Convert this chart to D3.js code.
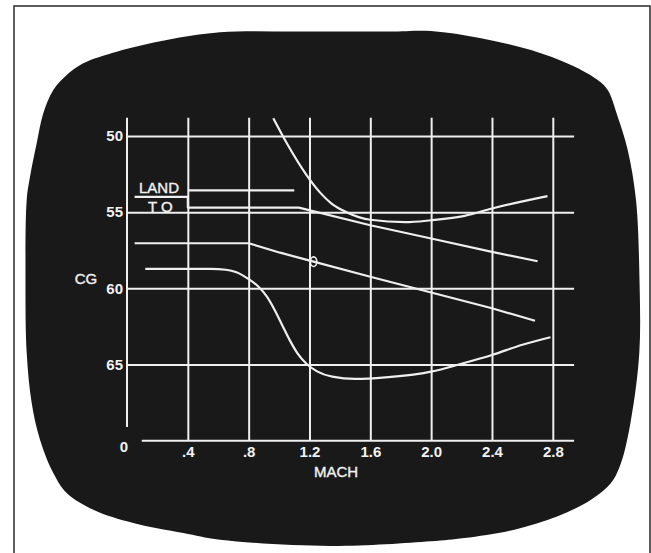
<!DOCTYPE html>
<html>
<head>
<meta charset="utf-8">
<script src="https://cdn.jsdelivr.net/npm/d3@7"></script>
<style>
  body { margin: 0; background: #fff; }
  svg { display: block; }
  text { font-family: "Liberation Sans", Arial, sans-serif; fill: #f2f2f2; }
</style>
</head>
<body>
<div id="chart"></div>
<script>
// CG vs Mach display (CRT screen)

// Axis ticks
const machTicks = [0.4, 0.8, 1.2, 1.6, 2.0, 2.4, 2.8];
const machLabels = [".4", ".8", "1.2", "1.6", "2.0", "2.4", "2.8"];
const cgTicks = [50, 55, 60, 65];

// LAND limit
const landMach = [0.4, 1.1];
const landCG = [53.57, 53.57];

// T O limit (with the step under the LAND label)
const toMach = [0.05, 0.4, 0.4, 1.13, 1.6, 2.0, 2.4, 2.70];
const toCG = [54.0, 54.0, 54.7, 54.7, 55.86, 56.73, 57.61, 58.22];

// forward curve (U shaped)
const fwdMach = [0.962, 1.051, 1.183, 1.273, 1.341, 1.454, 1.6, 1.831, 2.0, 2.221, 2.4, 2.765];
const fwdCG = [48.84, 50.48, 52.6, 53.75, 54.4, 55.05, 55.5, 55.66, 55.53, 55.24, 54.76, 53.95];

// actual CG schedule
const actMach = [0.05, 0.8, 1.007, 1.227, 1.6, 2.0, 2.4, 2.683];
const actCG = [57.04, 57.04, 57.66, 58.25, 59.24, 60.27, 61.31, 62.13];
const markerMach = 1.227;
const markerCG = 58.25;

// aft curve (S shaped)
const aftMach = [0.12, 0.55, 0.65, 0.72, 0.8, 0.86, 0.92, 0.97, 1.02, 1.07, 1.12, 1.18, 1.25, 1.35, 1.5, 1.7, 2.0, 2.2, 2.4, 2.6, 2.785];
const aftCG = [58.72, 58.72, 58.78, 58.95, 59.4, 59.85, 60.55, 61.4, 62.4, 63.4, 64.25, 64.95, 65.45, 65.8, 65.95, 65.85, 65.47, 64.95, 64.38, 63.7, 63.21];

const W = 651, H = 553;
const screenColor = "#191919";
const lineColor = "#efefef";

const svg = d3.select("#chart")
    .append("svg")
    .attr("width", W)
    .attr("height", H);

// photo frame
svg.append("path")
    .attr("d", `M14,553 L14,6 L650,6 L650,553`)
    .attr("fill", "none")
    .attr("stroke", "#2a2a2a")
    .attr("stroke-width", 1.5);

// CRT screen outline
const screen = [[220,32.3],[300,31.5],[390,31.5],[431,31],[481,38.3],[531,50],[571,65],[597.7,80],
    [607.7,90],[617.7,116.7],[627.7,150],[636,200],[639.5,280],[639.3,353],[631,419.7],[621,463],
    [611,483],[591,499.7],[557.7,516.3],[514.3,529.7],[464.3,538],[431,541.3],[330,546],[220,539.7],
    [183.3,533],[133.3,523],[93.3,509.7],[66.7,493],[53.3,473],[40,439.7],[31.7,403],[26.7,353],
    [25.5,280],[26.7,200],[30,176.7],[36.7,143.3],[43.3,113.3],[53.3,90],[66.7,75],[83.3,63.3],
    [116.7,51.7],[166.7,40]];

svg.append("path")
    .attr("d", d3.line().curve(d3.curveCatmullRomClosed)(screen))
    .attr("fill", screenColor);

// Scales
const x = d3.scaleLinear().domain([0, 2.8]).range([127, 552.8]);
const y = d3.scaleLinear().domain([50, 65]).range([136, 364.5]);

const gridTop = 48.8, gridBottom = 70, gridRight = 2.94;

// vertical grid + mach labels
const xAxis = svg.append("g")
    .attr("transform", `translate(0,${y(gridBottom)})`)
    .call(d3.axisBottom(x)
        .tickValues(machTicks)
        .tickFormat((d, i) => machLabels[i])
        .tickSize(-(y(gridBottom) - y(gridTop)))
        .tickPadding(6));
xAxis.select(".domain").remove();
xAxis.selectAll("line").attr("stroke", lineColor).attr("stroke-width", 2);
xAxis.selectAll("text")
    .attr("fill", lineColor)
    .style("font-size", "15px")
    .style("font-weight", "bold");

// horizontal grid + CG labels
const yAxis = svg.append("g")
    .attr("transform", `translate(${x(0)},0)`)
    .call(d3.axisLeft(y)
        .tickValues(cgTicks)
        .tickSize(-(x(gridRight) - x(0)))
        .tickPadding(4));
yAxis.select(".domain").remove();
yAxis.selectAll("line").attr("stroke", lineColor).attr("stroke-width", 2);
yAxis.selectAll("text")
    .attr("fill", lineColor)
    .style("font-size", "15px")
    .style("font-weight", "bold");

// axis lines (broken corner)
svg.append("line")
    .attr("x1", x(0)).attr("x2", x(0))
    .attr("y1", y(gridTop)).attr("y2", y(69.1))
    .attr("stroke", lineColor).attr("stroke-width", 2);
svg.append("line")
    .attr("x1", x(0.097)).attr("x2", x(gridRight))
    .attr("y1", y(gridBottom)).attr("y2", y(gridBottom))
    .attr("stroke", lineColor).attr("stroke-width", 2);

svg.append("text")
    .attr("x", 124).attr("y", 452)
    .attr("text-anchor", "middle")
    .style("font-size", "15px")
    .style("font-weight", "bold")
    .text("0");

const plainLabel = sel => sel
    .style("font-size", "15px")
    .attr("stroke", lineColor)
    .attr("stroke-width", 0.4);

svg.append("text")
    .attr("x", 336).attr("y", 477)
    .attr("text-anchor", "middle")
    .call(plainLabel)
    .text("MACH");

svg.append("text")
    .attr("x", 86).attr("y", 284)
    .attr("text-anchor", "middle")
    .call(plainLabel)
    .text("CG");

// curves
const line = d3.line().x(d => x(d[0])).y(d => y(d[1]));
const smooth = d3.line().x(d => x(d[0])).y(d => y(d[1])).curve(d3.curveMonotoneX);

const curves = [
    {pts: d3.zip(landMach, landCG), gen: line},
    {pts: d3.zip(toMach, toCG), gen: line},
    {pts: d3.zip(fwdMach, fwdCG), gen: smooth},
    {pts: d3.zip(actMach, actCG), gen: line},
    {pts: d3.zip(aftMach, aftCG), gen: smooth}
];

svg.selectAll(".curve")
    .data(curves)
    .enter()
    .append("path")
    .attr("class", "curve")
    .attr("d", d => d.gen(d.pts))
    .attr("fill", "none")
    .attr("stroke", lineColor)
    .attr("stroke-width", 2.2)
    .attr("stroke-linejoin", "round");

// current CG symbol
svg.append("ellipse")
    .attr("cx", x(markerMach))
    .attr("cy", y(markerCG))
    .attr("rx", 3.2)
    .attr("ry", 4.8)
    .attr("fill", "none")
    .attr("stroke", lineColor)
    .attr("stroke-width", 1.6);

// labels
svg.append("text")
    .attr("x", 139).attr("y", 193)
    .call(plainLabel)
    .text("LAND");

svg.append("text")
    .attr("x", 148).attr("y", 211.5)
    .call(plainLabel)
    .text("T O");
</script>
</body>
</html>
